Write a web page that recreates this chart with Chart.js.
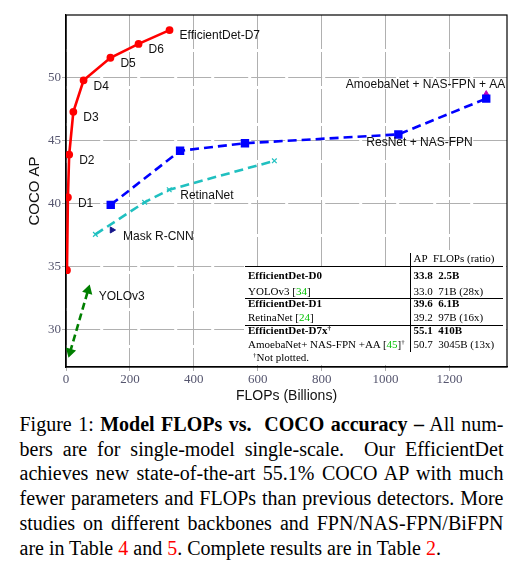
<!DOCTYPE html>
<html>
<head>
<meta charset="utf-8">
<script src="https://cdn.jsdelivr.net/npm/chart.js@4.4.1/dist/chart.umd.min.js"></script>
<style>
  body { margin: 0; background: #fff; width: 526px; height: 564px; overflow: hidden; position: relative; }
  #chart { position: absolute; left: 0; top: 0; }
  .tb { position: absolute; background: #fff; }
  .row { position: absolute; height: 14px; line-height: 14px; font-family: 'Liberation Serif', 'Times New Roman', serif; font-size: 11px; color: #000; white-space: nowrap; }
  .rule { position: absolute; left: 245px; width: 258px; height: 1.3px; background: #000; }
  .vrule { position: absolute; left: 410px; top: 253px; width: 1px; height: 99px; background: #000; }
  .ref { color: #00c000; }
  sup { font-size: 7px; line-height: 0; vertical-align: 4px; }
  .cap { position: absolute; left: 19.5px; width: 484px; font-family: 'Liberation Serif', 'Times New Roman', serif; font-size: 20px; height: 24.7px; line-height: 24.7px; color: #000; white-space: nowrap; }
  .just { text-align: justify; text-align-last: justify; }
  .red { color: #ff0000; }
</style>
</head>
<body>
<canvas id="chart" width="526" height="408"></canvas>
<div id="table"></div>
<div id="caption"></div>
<script>
// EfficientDet D0..D7
const effFlops = [3, 6, 10, 23, 55, 139, 227, 324];
const effAP = [34.7, 40.5, 43.9, 47.3, 49.8, 51.6, 52.7, 53.8];
const effLabels = ['', 'D1', 'D2', 'D3', 'D4', 'D5', 'D6', 'EfficientDet-D7'];

// ResNet + NAS-FPN
const nasFlops = [140, 357, 560, 1040, 1315];
const nasAP = [39.9, 44.2, 44.8, 45.5, 48.35];
const nasLabels = ['', '', '', 'ResNet + NAS-FPN', ''];

const amoebaFlops = [1315];
const amoebaAP = [48.7];

const retinaFlops = [92, 246, 323, 652];
const retinaAP = [37.55, 40.1, 41.1, 43.4];
const retinaLabels = ['', '', 'RetinaNet', ''];

const maskFlops = [144];
const maskAP = [37.9];

const yoloFlops = [13, 69];
const yoloAP = [28.2, 33.1];

const xTicks = [0, 200, 400, 600, 800, 1000, 1200];
const yTicks = [30, 35, 40, 45, 50];

// inset table
const tblModel = ['EfficientDet-D0', 'YOLOv3', 'EfficientDet-D1', 'RetinaNet', 'EfficientDet-D7x', 'AmoebaNet+ NAS-FPN +AA'];
const tblRef = ['', '34', '', '24', '', '45'];
const tblAP = ['33.8', '33.0', '39.6', '39.2', '55.1', '50.7'];
const tblFlops = ['2.5B', '71B (28x)', '6.1B', '97B (16x)', '410B', '3045B (13x)'];

function pts(xs, ys) {
  return xs.map((x, i) => ({x: x, y: ys[i]}));
}

const frame = {
  id: 'frame',
  beforeDatasetsDraw(chart) {
    const a = chart.chartArea, ctx = chart.ctx;
    ctx.save();
    ctx.strokeStyle = '#000';
    ctx.lineWidth = 1.2;
    ctx.strokeRect(a.left, a.top, a.right - a.left, a.bottom - a.top);
    ctx.restore();
  }
};

const pointLabels = {
  id: 'pointLabels',
  afterDatasetsDraw(chart) {
    const ctx = chart.ctx;
    ctx.save();
    ctx.font = '12px "Liberation Sans", Arial, sans-serif';
    ctx.fillStyle = '#111';
    ctx.textBaseline = 'middle';
    chart.data.datasets.forEach((ds, di) => {
      if (!ds.pointLabels) return;
      const meta = chart.getDatasetMeta(di);
      ds.pointLabels.forEach((t, i) => {
        if (!t) return;
        const el = meta.data[i];
        const off = ds.labelOffset;
        ctx.textAlign = off.align || 'left';
        ctx.fillText(t, el.x + off.dx, el.y + off.dy);
      });
    });
    ctx.restore();
  }
};

Chart.defaults.font.family = '"Liberation Sans", Arial, sans-serif';

const ctx = document.getElementById('chart').getContext('2d');
const chart = new Chart(ctx, {
  type: 'scatter',
  data: {
    datasets: [{
      label: 'EfficientDet',
      data: pts(effFlops, effAP),
      showLine: true,
      borderColor: '#ff0000',
      backgroundColor: '#ff0000',
      borderWidth: 2.6,
      pointRadius: 2.6,
      pointStyle: 'circle',
      pointLabels: effLabels,
      labelOffset: {dx: 10, dy: 6}
    }, {
      label: 'ResNet + NAS-FPN',
      data: pts(nasFlops, nasAP),
      showLine: true,
      borderColor: '#0000ff',
      backgroundColor: '#0000ff',
      borderWidth: 2.6,
      borderDash: [9, 5],
      pointStyle: 'rect',
      pointRadius: 4.1,
      pointLabels: nasLabels,
      labelOffset: {dx: -32, dy: 8.5}
    }, {
      label: 'AmoebaNet',
      data: pts(amoebaFlops, amoebaAP),
      borderColor: '#c000c0',
      backgroundColor: '#c000c0',
      pointStyle: 'triangle',
      pointRadius: 3.6,
      pointLabels: ['AmoebaNet + NAS-FPN + AA'],
      labelOffset: {dx: 19, dy: -9.5, align: 'right'}
    }, {
      label: 'RetinaNet',
      data: pts(retinaFlops, retinaAP),
      showLine: true,
      borderColor: '#20c0c0',
      backgroundColor: '#20c0c0',
      borderWidth: 2.6,
      borderDash: [9, 5],
      pointStyle: 'crossRot',
      pointRadius: 3.3,
      pointBorderWidth: 1.2,
      pointLabels: retinaLabels,
      labelOffset: {dx: 11, dy: 6.4}
    }, {
      label: 'Mask R-CNN',
      data: pts(maskFlops, maskAP),
      borderColor: '#16168a',
      backgroundColor: '#16168a',
      pointStyle: 'triangle',
      rotation: 90,
      pointRadius: 3.5,
      pointLabels: ['Mask R-CNN'],
      labelOffset: {dx: 11, dy: 6.4}
    }, {
      label: 'YOLOv3',
      data: pts(yoloFlops, yoloAP),
      showLine: true,
      borderColor: '#007f00',
      backgroundColor: '#007f00',
      borderWidth: 2.6,
      borderDash: [7, 4],
      pointStyle: 'triangle',
      rotation: [196, 16],
      pointRadius: 3.5,
      pointLabels: ['', 'YOLOv3'],
      labelOffset: {dx: 10.6, dy: 6}
    }]
  },
  options: {
    responsive: false,
    animation: false,
    devicePixelRatio: 1,
    layout: { padding: {top: 15, right: 19, bottom: 0, left: 0} },
    plugins: { legend: {display: false}, tooltip: {enabled: false} },
    scales: {
      x: {
        type: 'linear',
        min: 0,
        max: 1380,
        afterBuildTicks: s => { s.ticks = xTicks.map(v => ({value: v})); },
        afterFit: s => { s.height = 41; },
        grid: { color: '#b0b0b0', lineWidth: 1, tickLength: 4 },
        border: { color: '#000', width: 1.2, dash: [34, 3] },
        ticks: { font: {family: '"Liberation Serif", serif', size: 13}, color: '#55556e', padding: 1, maxRotation: 0, callback: v => String(v) },
        title: { display: true, text: 'FLOPs (Billions)', font: {size: 14}, color: '#111', padding: {top: 0, bottom: 3} }
      },
      y: {
        type: 'linear',
        min: 27,
        max: 55,
        afterBuildTicks: s => { s.ticks = yTicks.map(v => ({value: v})); },
        afterFit: s => { s.width = 66; },
        grid: { color: '#b0b0b0', lineWidth: 1, tickLength: 4 },
        border: { color: '#000', width: 1.2, dash: [34, 3] },
        ticks: { font: {family: '"Liberation Serif", serif', size: 13}, color: '#55556e', padding: 1, callback: v => String(v) },
        title: { display: true, text: 'COCO AP', font: {size: 15}, color: '#111', padding: {top: 26, bottom: 0} }
      }
    }
  },
  plugins: [frame, pointLabels]
});

// inset table (html text over the plot)
const tbl = document.getElementById('table');
let html = '';
html += '<div class="tb" style="left:244px;top:266px;width:262px;height:99px"></div>';
html += '<div class="tb" style="left:404px;top:250px;width:102px;height:17px"></div>';
html += '<div class="row" style="left:413.5px;top:251px">AP&nbsp;&nbsp;FLOPs (ratio)</div>';
const rowY = [275, 290.7, 302.7, 317.3, 330, 344.3];
for (let i = 0; i < tblModel.length; i++) {
  const bold = i % 2 === 0;
  const dag = i >= 4 ? '<sup>\u2020</sup>' : '';
  const ref = tblRef[i] ? ' [<span class="ref">' + tblRef[i] + '</span>]' : '';
  const w = bold ? 'font-weight:bold;' : '';
  html += '<div class="row" style="left:248px;top:' + (rowY[i] - 7) + 'px;' + w + '">' + tblModel[i] + ref + dag + '</div>';
  html += '<div class="row" style="left:413.5px;top:' + (rowY[i] - 7) + 'px;' + w + '">' + tblAP[i] + '&nbsp;&nbsp;' + tblFlops[i] + '</div>';
}
html += '<div class="row" style="left:253px;top:350.3px"><sup>\u2020</sup>Not plotted.</div>';
html += '<div class="rule" style="top:265.5px"></div>';
html += '<div class="rule" style="top:297.8px"></div>';
html += '<div class="rule" style="top:324.5px"></div>';
html += '<div class="vrule"></div>';
tbl.innerHTML = html;

// caption
const capLines = [
  'Figure 1: <b>Model FLOPs vs.&nbsp; COCO accuracy \u2013</b> All num-',
  'bers are for single-model single-scale.&nbsp; Our EfficientDet',
  'achieves new state-of-the-art 55.1% COCO AP with much',
  'fewer parameters and FLOPs than previous detectors. More',
  'studies on different backbones and FPN/NAS-FPN/BiFPN',
  'are in Table <span class="red">4</span> and <span class="red">5</span>. Complete results are in Table <span class="red">2</span>.'
];
const cap = document.getElementById('caption');
cap.innerHTML = capLines.map((t, i) =>
  '<div class="cap' + (i < capLines.length - 1 ? ' just' : '') + '" style="top:' + (412 + i * 24.7) + 'px">' + t + '</div>'
).join('');
</script>
</body>
</html>
